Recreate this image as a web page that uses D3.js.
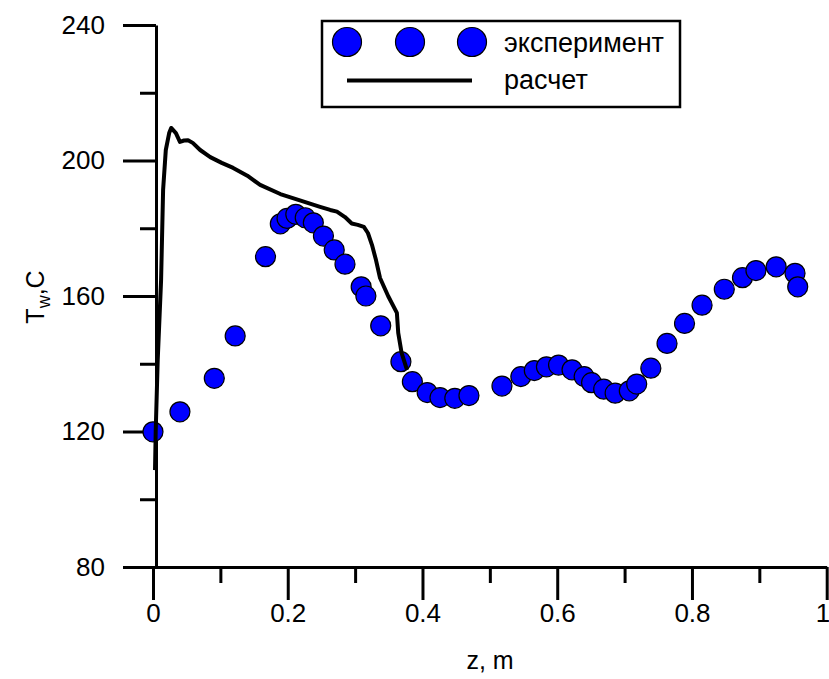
<!DOCTYPE html>
<html>
<head>
<meta charset="utf-8">
<script src="https://cdn.jsdelivr.net/npm/d3@7"></script>
<style>
  html, body { margin: 0; padding: 0; background: #fff; }
  svg text { font-family: "Liberation Sans", Arial, sans-serif; fill: #000; }
</style>
</head>
<body>
<svg id="chart" width="829" height="679"></svg>
<script>
// Measured wall temperature along z
const expZ = [0, 0.040, 0.091, 0.122, 0.167, 0.189, 0.199, 0.212, 0.226, 0.238, 0.253, 0.269, 0.285,
  0.309, 0.316, 0.338, 0.368, 0.385, 0.407, 0.426, 0.448, 0.469,
  0.518, 0.546, 0.566, 0.584, 0.602, 0.622, 0.640, 0.651, 0.669, 0.686, 0.707, 0.718, 0.739,
  0.763, 0.789, 0.815, 0.848, 0.875, 0.895, 0.925, 0.953, 0.957];
const expT = [119.9, 125.8, 135.7, 148.2, 171.6, 181.3, 182.9, 184.1, 183.1, 181.6, 177.7, 173.6, 169.4,
  162.7, 160.0, 151.2, 140.6, 134.7, 131.5, 130.0, 129.8, 130.6,
  133.4, 136.2, 138.0, 139.1, 139.6, 138.2, 136.2, 134.4, 132.5, 131.3, 132.0, 134.0, 138.7,
  146.0, 151.9, 157.3, 162.0, 165.4, 167.5, 168.6, 166.7, 162.7];

// Calculated wall temperature along z
const calcZ = [0.003, 0.004, 0.007, 0.012, 0.015, 0.019, 0.024, 0.027, 0.034, 0.040, 0.046, 0.052, 0.059,
  0.070, 0.085, 0.102, 0.119, 0.140, 0.159, 0.189, 0.218, 0.248, 0.263, 0.273, 0.285, 0.295, 0.304,
  0.313, 0.319, 0.325, 0.331, 0.337, 0.349, 0.362, 0.364, 0.369, 0.377];
const calcT = [108.6, 119.9, 141.1, 164.7, 191.3, 203.1, 208.1, 209.6, 208.1, 205.5, 205.9, 206.0, 205.2,
  203.1, 201.0, 199.3, 197.8, 195.5, 192.8, 190.1, 188.2, 186.3, 185.4, 184.9, 183.3, 181.4, 181.0,
  180.4, 178.6, 175.1, 170.6, 165.3, 160.0, 155.0, 149.1, 143.2, 138.2];

const xTicks = [0, 0.2, 0.4, 0.6, 0.8, 1];
const xTickLabels = ["0", "0.2", "0.4", "0.6", "0.8", "1"];
const xMinorTicks = [0.1, 0.3, 0.5, 0.7, 0.9];
const yTicks = [80, 120, 160, 200, 240];
const yMinorTicks = [100, 140, 180, 220];

const legendLabels = ["эксперимент", "расчет"];

const svg = d3.select("#chart");
const x = d3.scaleLinear().domain([0, 1]).range([153, 826.7]);
const y = d3.scaleLinear().domain([80, 240]).range([567, 25]);
const yAxisX = 156;
const tickFont = 26;
const titleFont = 25;
const legendFont = 27;

// axes
function styleAxis(g) {
  g.selectAll("path.domain").attr("stroke", "#000").attr("stroke-width", 3);
  g.selectAll(".tick line").attr("stroke", "#000").attr("stroke-width", 3);
  g.selectAll(".tick text").attr("font-size", tickFont).attr("font-family", "Liberation Sans, Arial, sans-serif");
}

const gx = svg.append("g").attr("transform", `translate(0,${y(80)})`)
  .call(d3.axisBottom(x).tickValues(xTicks).tickFormat((d, i) => xTickLabels[i])
    .tickSize(33).tickSizeOuter(0).tickPadding(4));
styleAxis(gx);
// keep the last label inside the page edge
gx.selectAll(".tick text").filter((d) => d === 1).attr("text-anchor", "end").attr("x", 3);
const gxm = svg.append("g").attr("transform", `translate(0,${y(80)})`)
  .call(d3.axisBottom(x).tickValues(xMinorTicks).tickFormat("").tickSize(16).tickSizeOuter(0));
styleAxis(gxm);
gxm.select("path.domain").remove();

const gy = svg.append("g").attr("transform", `translate(${yAxisX},0)`)
  .call(d3.axisLeft(y).tickValues(yTicks).tickSize(33).tickSizeOuter(0).tickPadding(18));
styleAxis(gy);
const gym = svg.append("g").attr("transform", `translate(${yAxisX},0)`)
  .call(d3.axisLeft(y).tickValues(yMinorTicks).tickFormat("").tickSize(16).tickSizeOuter(0));
styleAxis(gym);
gym.select("path.domain").remove();

// axis titles
svg.append("text").attr("x", 490).attr("y", 669).attr("text-anchor", "middle")
  .attr("font-size", titleFont).text("z, m");
const yl = svg.append("text").attr("transform", `translate(44,297) rotate(-90)`)
  .attr("text-anchor", "middle").attr("font-size", titleFont);
yl.append("tspan").text("T");
yl.append("tspan").attr("font-size", 18).attr("dy", 6).text("w");
yl.append("tspan").attr("dy", -6).text(",C");

// experimental points
svg.append("g").selectAll("circle").data(expZ).join("circle")
  .attr("cx", (d) => x(d)).attr("cy", (d, i) => y(expT[i])).attr("r", 10)
  .attr("fill", "#0000ff").attr("stroke", "#000").attr("stroke-width", 1.2);

// calculated curve
const line = d3.line().x((d) => x(d[0])).y((d) => y(d[1]));
svg.append("path").datum(calcZ.map((z, i) => [z, calcT[i]]))
  .attr("d", line).attr("fill", "none").attr("stroke", "#000")
  .attr("stroke-width", 4).attr("stroke-linejoin", "round");

// legend
const lg = svg.append("g");
lg.append("rect").attr("x", 322).attr("y", 21).attr("width", 358).attr("height", 86)
  .attr("fill", "#fff").attr("stroke", "#000").attr("stroke-width", 2.5);
[347, 410, 472].forEach((cx) => {
  lg.append("circle").attr("cx", cx).attr("cy", 42).attr("r", 14.5)
    .attr("fill", "#0000ff").attr("stroke", "#000").attr("stroke-width", 1.2);
});
lg.append("line").attr("x1", 347).attr("x2", 472).attr("y1", 80.5).attr("y2", 80.5)
  .attr("stroke", "#000").attr("stroke-width", 4);
lg.append("text").attr("x", 504).attr("y", 52).attr("font-size", legendFont).text(legendLabels[0]);
lg.append("text").attr("x", 504).attr("y", 89).attr("font-size", legendFont).text(legendLabels[1]);
</script>
</body>
</html>
